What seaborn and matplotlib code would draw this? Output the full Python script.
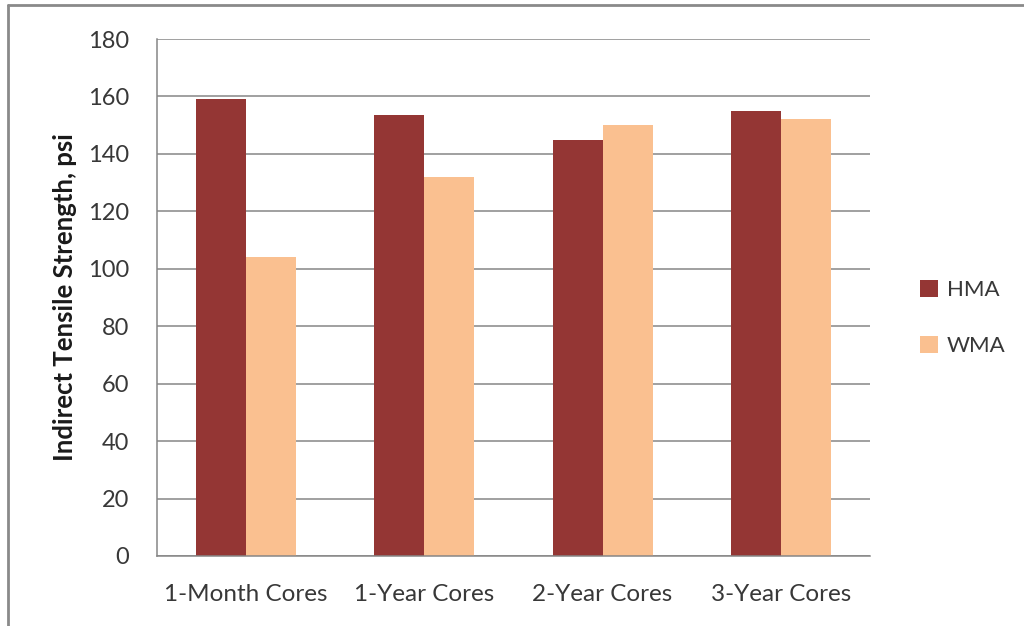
import matplotlib
matplotlib.use("Agg")
import matplotlib.pyplot as plt
from matplotlib.lines import Line2D
from matplotlib.patches import Patch
import seaborn as sns
import pandas as pd

# Indirect tensile strength of field cores, psi
categories = ["1-Month Cores", "1-Year Cores", "2-Year Cores", "3-Year Cores"]
hma_values = [159, 153.5, 145, 155]
wma_values = [104, 132, 150, 152]
series_names = ["HMA", "WMA"]
y_ticks = [0, 20, 40, 60, 80, 100, 120, 140, 160, 180]

df = pd.DataFrame({
    "Age": categories * 2,
    "Mix": [series_names[0]] * len(categories) + [series_names[1]] * len(categories),
    "ITS": hma_values + wma_values,
})

sns.set_theme(style="white")
plt.rcParams["font.family"] = ["Lato", "DejaVu Sans"]

palette = {"HMA": "#943634", "WMA": "#FAC090"}
text_color = "#383838"
grid_color = "#868686"

fig = plt.figure(figsize=(10.24, 6.26), dpi=100)
ax = fig.add_axes([157 / 1024, 1 - 556 / 626, (870 - 157) / 1024, (556 - 39) / 626])

sns.barplot(data=df, x="Age", y="ITS", hue="Mix", order=categories,
            hue_order=series_names, palette=palette, width=0.56,
            saturation=1, linewidth=0, legend=False, ax=ax)

ax.set_xlim(-0.5, len(categories) - 0.5)
ax.set_ylim(0, 180)
ax.set_yticks(y_ticks)
ax.set_yticklabels([str(v) for v in y_ticks])
ax.yaxis.grid(True, color=grid_color, linewidth=1.1)
ax.set_axisbelow(True)

for side in ["top", "right"]:
    ax.spines[side].set_visible(False)
for side in ["left", "bottom"]:
    ax.spines[side].set_color(grid_color)
    ax.spines[side].set_linewidth(1.1)

# Category separators below the axis
ax.set_xticks([i + 0.5 for i in range(-1, len(categories))], minor=True)
ax.tick_params(axis="x", which="minor", length=6, width=1.1, color=grid_color, direction="out")
ax.tick_params(axis="x", which="major", length=0, pad=20, labelsize=17.5, labelcolor=text_color)
ax.tick_params(axis="y", which="major", length=6, width=1.1, color=grid_color, direction="out",
               pad=14, labelsize=17, labelcolor=text_color)

ax.set_xlabel("")
ax.set_ylabel("Indirect Tensile Strength, psi", fontsize=18.5, fontweight="bold",
              color="#1a1a1a", labelpad=8)

handles = [Patch(facecolor=palette[n], edgecolor="none") for n in series_names]
fig.legend(handles, series_names, loc="center left", bbox_to_anchor=(900 / 1024, 1 - 318 / 626),
           frameon=False, fontsize=16, handlelength=0.8, handleheight=0.8,
           handletextpad=0.4, labelspacing=1.6, labelcolor=text_color)

# Chart frame lines along the top and left edges
fig.add_artist(Line2D([8 / 1024, 1.0], [1 - 5 / 626, 1 - 5 / 626], transform=fig.transFigure,
                      color="#8a8a8a", linewidth=2))
fig.add_artist(Line2D([8 / 1024, 8 / 1024], [0.0, 1 - 5 / 626], transform=fig.transFigure,
                      color="#8a8a8a", linewidth=2))

fig.savefig("out.png", dpi=100, facecolor="white")
